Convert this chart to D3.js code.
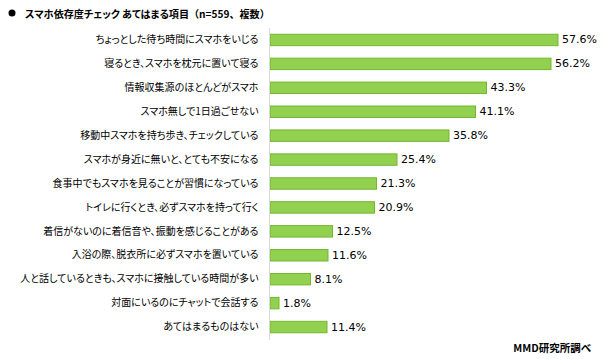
<!DOCTYPE html>
<html><head><meta charset="utf-8">
<script src="https://cdn.jsdelivr.net/npm/d3@7"></script>
<style>
body{margin:0;background:#fff;}
svg text{font-feature-settings:"palt";}
svg tspan.np{font-feature-settings:normal;}
</style></head>
<body><svg id="c" width="600" height="359"></svg>
<script>
const categories = [
 "ちょっとした待ち時間にスマホをいじる",
 "寝るとき、スマホを枕元に置いて寝る",
 "情報収集源のほとんどがスマホ",
 "スマホ無しで1日過ごせない",
 "移動中スマホを持ち歩き、チェックしている",
 "スマホが身近に無いと、とても不安になる",
 "食事中でもスマホを見ることが習慣になっている",
 "トイレに行くとき、必ずスマホを持って行く",
 "着信がないのに着信音や、振動を感じることがある",
 "入浴の際、脱衣所に必ずスマホを置いている",
 "人と話しているときも、スマホに接触している時間が多い",
 "対面にいるのにチャットで会話する",
 "あてはまるものはない"
];
const values = [57.6, 56.2, 43.3, 41.1, 35.8, 25.4, 21.3, 20.9, 12.5, 11.6, 8.1, 1.8, 11.4];
const titleMain = "スマホ依存度チェック あてはまる項目";
const titleNote = "（n=559、複数）";
const source = "MMD研究所調べ";

const svg = d3.select("#c");
const jp = "'Noto Sans CJK JP', 'Noto Sans', sans-serif";
const x = d3.scaleLinear().domain([0, 60]).range([270, 570]);
const y = d3.scaleBand().domain(categories).range([28, 339]).paddingInner(0.48).paddingOuter(0.24);

svg.append("circle").attr("cx", 12).attr("cy", 13).attr("r", 3.5).attr("fill", "#000");
const t = svg.append("text").attr("x", 25).attr("y", 13).attr("dominant-baseline", "central")
  .attr("font-family", jp).attr("font-weight", "bold").attr("font-size", 10.1).attr("fill", "#000");
t.append("tspan").text(titleMain);
t.append("tspan").attr("class", "np").text(titleNote);

svg.selectAll("rect.bar").data(values).join("rect").attr("class", "bar")
  .attr("x", x(0)).attr("y", (d, i) => y(categories[i]) + 0.5)
  .attr("width", d => x(d) - x(0)).attr("height", y.bandwidth() - 1)
  .attr("fill", "#92d050").attr("stroke", "#74b72e").attr("stroke-width", 1);

const axis = d3.axisLeft(y).tickSize(0).tickPadding(11);
const g = svg.append("g").attr("transform", `translate(${269.5},0)`).call(axis);
g.select(".domain").attr("stroke", "#d9d9d9").attr("d", "M0,28V340");
g.selectAll("text").attr("font-family", jp).attr("font-size", 10).attr("fill", "#000");

svg.selectAll("text.val").data(values).join("text").attr("class", "val")
  .attr("x", d => x(d) + 4).attr("y", (d, i) => y(categories[i]) + y.bandwidth() / 2)
  .attr("dominant-baseline", "central")
  .attr("font-family", "'DejaVu Sans', Verdana, sans-serif").attr("font-size", 11).attr("fill", "#000")
  .text(d => d.toFixed(1) + "%");

svg.append("text").attr("x", 591).attr("y", 347).attr("text-anchor", "end").attr("dominant-baseline", "central")
  .attr("font-family", jp).attr("font-weight", "bold").attr("font-size", 10.5).attr("fill", "#000")
  .text(source);
</script></body></html>
